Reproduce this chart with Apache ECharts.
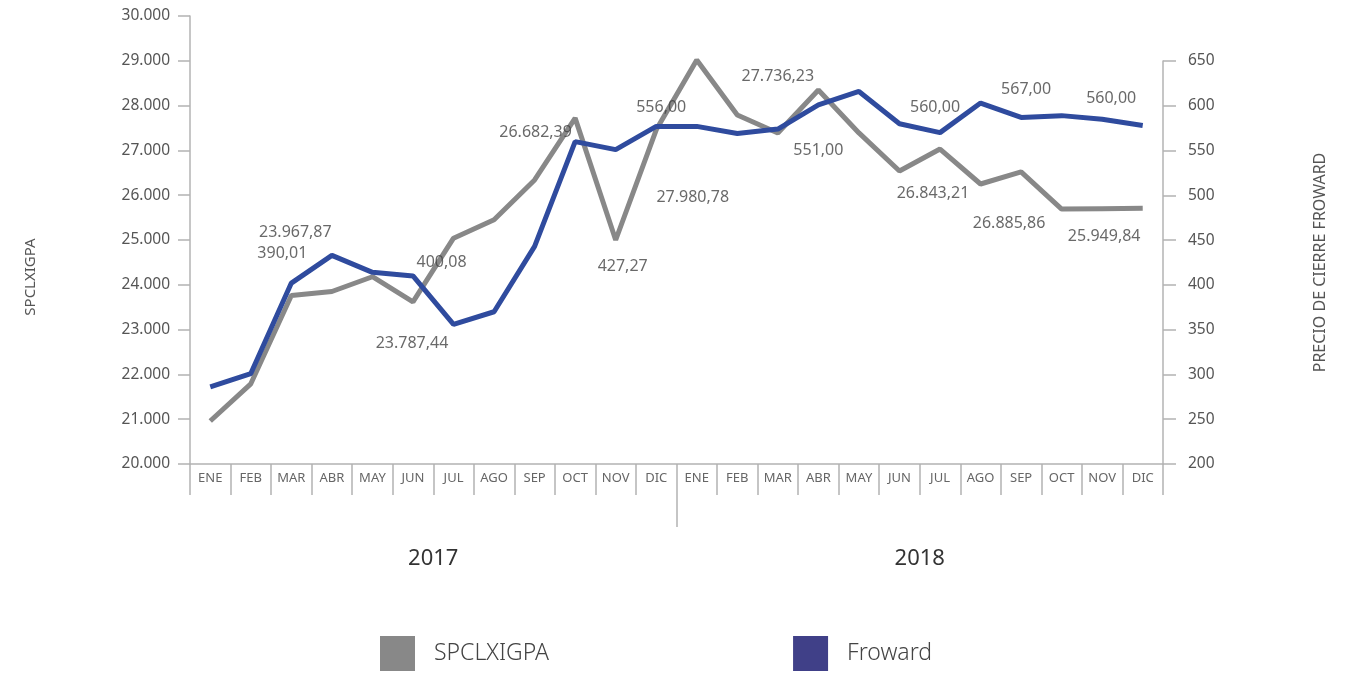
<!DOCTYPE html>
<html lang="es">
<head>
    <meta charset="UTF-8">
    <title>SPCLXIGPA vs Froward</title>
    <style>
        *{ margin: 0; padding: 0;}
        body{ background: #fff;}
        #chart{ width: 1346px; height: 673px;}
    </style>
    <script src="https://cdn.jsdelivr.net/npm/echarts@6/dist/echarts.min.js"></script>
</head>
<body>
    <div id="chart"></div>
    <script>
        var months = ['ENE', 'FEB', 'MAR', 'ABR', 'MAY', 'JUN', 'JUL', 'AGO', 'SEP', 'OCT', 'NOV', 'DIC',
                      'ENE', 'FEB', 'MAR', 'ABR', 'MAY', 'JUN', 'JUL', 'AGO', 'SEP', 'OCT', 'NOV', 'DIC'];
        var years = ['2017', '2018'];

        // SPCLXIGPA (eje izquierdo)
        var ipsa = [20960, 21790, 23760, 23850, 24180, 23620, 25040, 25450, 26340, 27720, 25000, 27460,
                    29020, 27790, 27390, 28350, 27390, 26540, 27030, 26250, 26520, 25690, 25700, 25710];
        // Froward (eje derecho)
        var froward = [286, 301, 402, 433, 414, 410, 356, 370, 443, 560, 551, 577,
                       577, 569, 574, 601, 616, 580, 570, 603, 587, 589, 585, 578];

        // textos sueltos sobre el grafico: texto, mes (indice), altura en escala izquierda
        var noteText = ['23.967,87', '390,01', '400,08', '23.787,44', '26.682,39', '427,27', '556,00', '27.980,78',
                        '27.736,23', '551,00', '560,00', '26.843,21', '567,00', '26.885,86', '560,00', '25.949,84'];
        var noteMonth = [2, 2, 6, 5, 8, 10, 11, 12, 14, 15, 18, 18, 20, 20, 22, 22];
        var noteLevel = [25160, 24690, 24490, 22700, 27410, 24420, 27970, 25960,
                         28660, 26990, 27970, 26030, 28350, 25360, 28150, 25090];
        var noteShift = [4, -9, -12, -1, 1, 7, 5, -4, 0, 0, -5, -7, 5, -12, 9, 2];

        var font = '"Noto Sans", "DejaVu Sans", sans-serif';
        var axisColor = '#b3b3b3';
        var textColor = '#555';

        function thousands(v) {
            return String(v).replace(/\B(?=(\d{3})+(?!\d))/g, '.');
        }

        var notes = noteText.map(function (t, i) {
            return {
                name: t,
                value: [noteMonth[i], noteLevel[i]],
                label: { offset: [noteShift[i], 0] }
            };
        });

        var myChart = echarts.init(document.getElementById('chart'));

        var option = {
            animation: false,
            textStyle: { fontFamily: font },
            grid: [
                { left: 190, right: 183, top: 16, bottom: 209 },
                { left: 190, right: 183, top: 61, bottom: 209 }
            ],
            legend: {
                left: 375,
                top: 631,
                itemWidth: 35,
                itemHeight: 35,
                itemGap: 244,
                icon: 'rect',
                textStyle: { fontSize: 23, color: '#444', fontWeight: 300, padding: [0, 0, 0, 14] },
                data: [
                    { name: 'SPCLXIGPA', itemStyle: { color: '#888888' } },
                    { name: 'Froward', itemStyle: { color: '#404088' } }
                ]
            },
            xAxis: [
                {
                    type: 'category',
                    gridIndex: 0,
                    data: months,
                    boundaryGap: true,
                    axisLine: { show: true, lineStyle: { color: axisColor, width: 1.5 } },
                    axisTick: { show: true, interval: 0, length: 31, lineStyle: { color: axisColor, width: 1.5 } },
                    axisLabel: { interval: 0, margin: 8, fontSize: 13, color: '#666' }
                },
                {
                    // años, con la division entre ellos
                    type: 'value',
                    gridIndex: 0,
                    position: 'bottom',
                    min: 0,
                    max: 24,
                    axisLine: { show: false },
                    splitLine: { show: false },
                    axisTick: { show: true, length: 63, customValues: [12], lineStyle: { color: axisColor, width: 1.5 } },
                    axisLabel: {
                        customValues: [6, 18],
                        margin: 84,
                        fontSize: 22,
                        color: '#333',
                        formatter: function (v) { return years[Math.round((v - 6) / 12)]; }
                    }
                },
                {
                    type: 'category',
                    gridIndex: 1,
                    data: months,
                    show: false
                }
            ],
            yAxis: [
                {
                    type: 'value',
                    gridIndex: 0,
                    min: 20000,
                    max: 30000,
                    interval: 1000,
                    name: 'SPCLXIGPA',
                    nameLocation: 'middle',
                    nameRotate: 90,
                    nameGap: 152,
                    nameTextStyle: { fontSize: 15, color: textColor, padding: [0, 74, 0, 0] },
                    splitLine: { show: false },
                    axisLine: { show: true, lineStyle: { color: axisColor, width: 1.5 } },
                    axisTick: { show: true, length: 12, lineStyle: { color: axisColor, width: 1.5 } },
                    axisLabel: { margin: 20, fontSize: 15.5, color: textColor, formatter: thousands }
                },
                {
                    type: 'value',
                    gridIndex: 1,
                    position: 'right',
                    min: 200,
                    max: 650,
                    interval: 50,
                    name: 'PRECIO DE CIERRE FROWARD',
                    nameLocation: 'middle',
                    nameRotate: 90,
                    nameGap: 149,
                    nameTextStyle: { fontSize: 16, color: textColor },
                    splitLine: { show: false },
                    axisLine: { show: true, lineStyle: { color: axisColor, width: 1.5 } },
                    axisTick: { show: true, length: 13, lineStyle: { color: axisColor, width: 1.5 } },
                    axisLabel: { margin: 25, fontSize: 15.5, color: textColor }
                }
            ],
            series: [
                {
                    name: 'SPCLXIGPA',
                    type: 'line',
                    xAxisIndex: 0,
                    yAxisIndex: 0,
                    data: ipsa,
                    showSymbol: false,
                    lineStyle: { color: '#888888', width: 5 },
                    itemStyle: { color: '#888888' }
                },
                {
                    name: 'Froward',
                    type: 'line',
                    xAxisIndex: 2,
                    yAxisIndex: 1,
                    data: froward,
                    showSymbol: false,
                    z: 3,
                    lineStyle: { color: '#2f4b9e', width: 5 },
                    itemStyle: { color: '#2f4b9e' }
                },
                {
                    name: 'notas',
                    type: 'scatter',
                    xAxisIndex: 0,
                    yAxisIndex: 0,
                    data: notes,
                    symbolSize: 1,
                    silent: true,
                    z: 5,
                    itemStyle: { color: 'rgba(0,0,0,0)' },
                    label: {
                        show: true,
                        position: 'inside',
                        fontSize: 16,
                        color: '#444',
                        formatter: function (p) { return p.name; }
                    }
                }
            ]
        };

        myChart.setOption(option);
    </script>
</body>
</html>
